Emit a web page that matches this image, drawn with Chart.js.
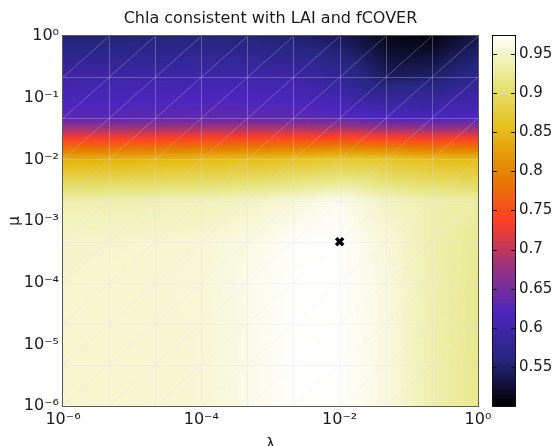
<!DOCTYPE html>
<html>
<head>
<meta charset="utf-8">
<script src="https://cdn.jsdelivr.net/npm/chart.js@4/dist/chart.umd.min.js"></script>
<style>
  html, body { margin: 0; padding: 0; background: #fff; overflow: hidden; }
  #wrap { position: relative; width: 555px; height: 446px; overflow: hidden; }
  #main { position: absolute; left: 0; top: 0; }
  #cbar { position: absolute; left: 490px; top: 0; }
</style>
</head>
<body>
<div id="wrap">
  <canvas id="main" width="541" height="460"></canvas>
  <canvas id="cbar" width="65" height="446"></canvas>
</div>
<script>
// mesh nodes (10 log-spaced values per axis)
const lambdaNodes = [1e-6, 4.64e-6, 2.15e-5, 1e-4, 4.64e-4, 2.15e-3, 1e-2, 4.64e-2, 2.15e-1, 1];
const muNodes = [1e-6, 4.64e-6, 2.15e-5, 1e-4, 4.64e-4, 2.15e-3, 1e-2, 4.64e-2, 2.15e-1, 1];

// Chla score at each node, one row per mu node (bottom row first), one column per lambda node
const chlaRows = [
  [0.950, 0.951, 0.952, 0.953, 0.962, 0.972, 0.972, 0.958, 0.935, 0.920],
  [0.950, 0.951, 0.952, 0.953, 0.962, 0.972, 0.972, 0.958, 0.935, 0.920],
  [0.950, 0.951, 0.952, 0.953, 0.962, 0.972, 0.972, 0.958, 0.935, 0.921],
  [0.950, 0.951, 0.952, 0.954, 0.963, 0.972, 0.972, 0.958, 0.936, 0.921],
  [0.949, 0.950, 0.951, 0.953, 0.960, 0.970, 0.973, 0.955, 0.935, 0.922],
  [0.935, 0.936, 0.938, 0.940, 0.945, 0.955, 0.965, 0.945, 0.935, 0.930],
  [0.840, 0.842, 0.845, 0.850, 0.855, 0.860, 0.870, 0.865, 0.855, 0.850],
  [0.630, 0.630, 0.632, 0.635, 0.635, 0.635, 0.630, 0.620, 0.615, 0.620],
  [0.595, 0.597, 0.598, 0.600, 0.600, 0.595, 0.580, 0.545, 0.550, 0.570],
  [0.552, 0.553, 0.555, 0.556, 0.555, 0.550, 0.540, 0.512, 0.505, 0.535]
];

// best (lambda, mu) marker
const bestLambda = [1e-2];
const bestMu = [4.64e-4];

const xTickVals = [1e-6, 1e-4, 1e-2, 1];
const xTickLabels = ['10⁻⁶', '10⁻⁴', '10⁻²', '10⁰'];
const yTickVals = [1e-6, 1e-5, 1e-4, 1e-3, 1e-2, 1e-1, 1];
const yTickLabels = ['10⁻⁶', '10⁻⁵', '10⁻⁴', '10⁻³', '10⁻²', '10⁻¹', '10⁰'];
const cbTickVals = [0.55, 0.6, 0.65, 0.7, 0.75, 0.8, 0.85, 0.9, 0.95];
const cbTickLabels = ['0.55', '0.6', '0.65', '0.7', '0.75', '0.8', '0.85', '0.9', '0.95'];
const cbMin = 0.5;
const cbMax = 0.973;

// CMRmap colour stops
const cmapStops = [
  [0.000, 0, 0, 0],
  [0.125, 38, 38, 128],
  [0.250, 77, 38, 191],
  [0.375, 153, 51, 128],
  [0.500, 255, 64, 38],
  [0.625, 230, 128, 0],
  [0.750, 230, 191, 26],
  [0.875, 230, 230, 128],
  [1.000, 255, 255, 255]
];

function cmap(t) {
  t = Math.max(0, Math.min(1, t));
  for (let k = 1; k < cmapStops.length; k++) {
    const a = cmapStops[k - 1], b = cmapStops[k];
    if (t <= b[0]) {
      const f = (t - a[0]) / (b[0] - a[0]);
      return [a[1] + f * (b[1] - a[1]), a[2] + f * (b[2] - a[2]), a[3] + f * (b[3] - a[3])];
    }
  }
  return [255, 255, 255];
}

const FONT = 'DejaVu Sans';
const TXT = '#1a1a1a';

const heatPlugin = {
  id: 'heat',
  beforeDatasetsDraw(chart) {
    const { ctx, chartArea: a, scales: { x, y } } = chart;
    const nx = lambdaNodes.map(v => x.getPixelForValue(v));
    const ny = muNodes.map(v => y.getPixelForValue(v));
    const w = Math.round(a.right - a.left), h = Math.round(a.bottom - a.top);
    const off = document.createElement('canvas');
    off.width = w; off.height = h;
    const octx = off.getContext('2d');
    const img = octx.createImageData(w, h);
    for (let py = 0; py < h; py++) {
      const yy = a.top + py + 0.5;
      let j = 0;
      while (j < ny.length - 2 && yy < ny[j + 1]) j++;
      const v = Math.max(0, Math.min(1, (ny[j] - yy) / (ny[j] - ny[j + 1])));
      for (let px = 0; px < w; px++) {
        const xx = a.left + px + 0.5;
        let i = 0;
        while (i < nx.length - 2 && xx > nx[i + 1]) i++;
        const u = Math.max(0, Math.min(1, (xx - nx[i]) / (nx[i + 1] - nx[i])));
        const bl = chlaRows[j][i], br = chlaRows[j][i + 1];
        const tl = chlaRows[j + 1][i], tr = chlaRows[j + 1][i + 1];
        const val = v <= u ? bl + u * (br - bl) + v * (tr - br) : bl + v * (tl - bl) + u * (tr - tl);
        const c = cmap((val - cbMin) / (cbMax - cbMin));
        const p = (py * w + px) * 4;
        img.data[p] = c[0]; img.data[p + 1] = c[1]; img.data[p + 2] = c[2]; img.data[p + 3] = 255;
      }
    }
    octx.putImageData(img, 0, 0);
    ctx.drawImage(off, a.left, a.top, w, h);

    // faint mesh seams like the original render
    ctx.save();
    ctx.beginPath();
    ctx.rect(a.left, a.top, w, h);
    ctx.clip();
    ctx.strokeStyle = 'rgba(225,215,245,0.3)';
    ctx.lineWidth = 1;
    ctx.beginPath();
    for (let i = 1; i < nx.length - 1; i++) {
      ctx.moveTo(Math.round(nx[i]) + 0.5, a.top);
      ctx.lineTo(Math.round(nx[i]) + 0.5, a.bottom);
    }
    for (let j = 1; j < ny.length - 1; j++) {
      ctx.moveTo(a.left, Math.round(ny[j]) + 0.5);
      ctx.lineTo(a.right, Math.round(ny[j]) + 0.5);
    }
    for (let i = 0; i < nx.length - 1; i++) {
      for (let j = 0; j < ny.length - 1; j++) {
        ctx.moveTo(nx[i], ny[j]);
        ctx.lineTo(nx[i + 1], ny[j + 1]);
      }
    }
    ctx.stroke();
    ctx.restore();
  },
  afterDraw(chart) {
    const { ctx, chartArea: a } = chart;
    ctx.save();
    ctx.strokeStyle = '#5a5a5a';
    ctx.lineWidth = 1;
    ctx.strokeRect(Math.round(a.left) - 0.5, Math.round(a.top) - 0.5,
      Math.round(a.right - a.left) + 1, Math.round(a.bottom - a.top) + 1);
    ctx.restore();
  }
};

new Chart(document.getElementById('main'), {
  type: 'scatter',
  data: {
    datasets: [{
      data: bestLambda.map((l, k) => ({ x: l, y: bestMu[k] })),
      pointStyle: 'crossRot',
      radius: 5,
      borderWidth: 3.5,
      borderColor: '#000',
      backgroundColor: '#000'
    }]
  },
  options: {
    responsive: false,
    animation: false,
    layout: { padding: 0 },
    plugins: {
      legend: { display: false },
      tooltip: { enabled: false },
      title: {
        display: true,
        text: 'Chla consistent with LAI and fCOVER',
        color: TXT,
        font: { family: FONT, size: 16, weight: 'normal' },
        padding: { top: 9, bottom: 8 }
      }
    },
    scales: {
      x: {
        type: 'logarithmic',
        min: 1e-6,
        max: 1,
        grid: { display: false, drawTicks: false },
        border: { display: false },
        afterBuildTicks: s => { s.ticks = xTickVals.map(v => ({ value: v })); },
        ticks: {
          callback: (v, i) => xTickLabels[i],
          color: TXT,
          font: { family: FONT, size: 16 },
          padding: 4,
          maxRotation: 0,
          autoSkip: false
        },
        title: {
          display: true,
          text: 'λ',
          color: TXT,
          font: { family: FONT, size: 15 },
          padding: { top: 0, bottom: 6 }
        },
        afterFit: s => { s.height = 54; }
      },
      y: {
        type: 'logarithmic',
        min: 1e-6,
        max: 1,
        grid: { display: false, drawTicks: false },
        border: { display: false },
        afterBuildTicks: s => { s.ticks = yTickVals.map(v => ({ value: v })); },
        ticks: {
          callback: (v, i) => yTickLabels[i],
          color: TXT,
          font: { family: FONT, size: 16 },
          padding: 4,
          autoSkip: false
        },
        title: {
          display: true,
          text: 'μ',
          color: TXT,
          font: { family: FONT, size: 15 },
          padding: { top: 6, bottom: 0 }
        },
        afterFit: s => { s.width = 63; }
      },
      yR: {
        type: 'linear',
        position: 'right',
        grid: { display: false, drawTicks: false },
        border: { display: false },
        ticks: { display: false },
        afterFit: s => { s.width = 63; }
      }
    }
  },
  plugins: [heatPlugin]
});

const cbarPlugin = {
  id: 'cbarFill',
  beforeDatasetsDraw(chart) {
    const { ctx, chartArea: a, scales: { y } } = chart;
    ctx.save();
    for (let py = Math.round(a.top); py < Math.round(a.bottom); py++) {
      const val = y.getValueForPixel(py + 0.5);
      const c = cmap((val - cbMin) / (cbMax - cbMin));
      ctx.fillStyle = `rgb(${c[0] | 0},${c[1] | 0},${c[2] | 0})`;
      ctx.fillRect(a.left, py, a.right - a.left, 1);
    }
    ctx.strokeStyle = '#111';
    ctx.lineWidth = 1;
    ctx.beginPath();
    cbTickVals.forEach(v => {
      const py = Math.round(y.getPixelForValue(v)) + 0.5;
      ctx.moveTo(a.left, py); ctx.lineTo(a.left + 4, py);
      ctx.moveTo(a.right - 4, py); ctx.lineTo(a.right, py);
    });
    ctx.stroke();
    ctx.strokeRect(Math.round(a.left) - 0.5, Math.round(a.top) - 0.5,
      Math.round(a.right - a.left) + 1, Math.round(a.bottom - a.top) + 1);
    ctx.restore();
  }
};

new Chart(document.getElementById('cbar'), {
  type: 'scatter',
  data: { datasets: [] },
  options: {
    responsive: false,
    animation: false,
    layout: { padding: { left: 3, top: 36, bottom: 40, right: 0 } },
    plugins: { legend: { display: false }, tooltip: { enabled: false } },
    scales: {
      x: { display: false },
      y: {
        type: 'linear',
        position: 'right',
        min: cbMin,
        max: cbMax,
        grid: { display: false, drawTicks: false },
        border: { display: false },
        afterBuildTicks: s => { s.ticks = cbTickVals.map(v => ({ value: v })); },
        ticks: {
          callback: (v, i) => cbTickLabels[i],
          color: TXT,
          font: { family: FONT, size: 15 },
          padding: 4,
          autoSkip: false
        },
        afterFit: s => { s.width = 40; }
      }
    }
  },
  plugins: [cbarPlugin]
});
</script>
</body>
</html>
